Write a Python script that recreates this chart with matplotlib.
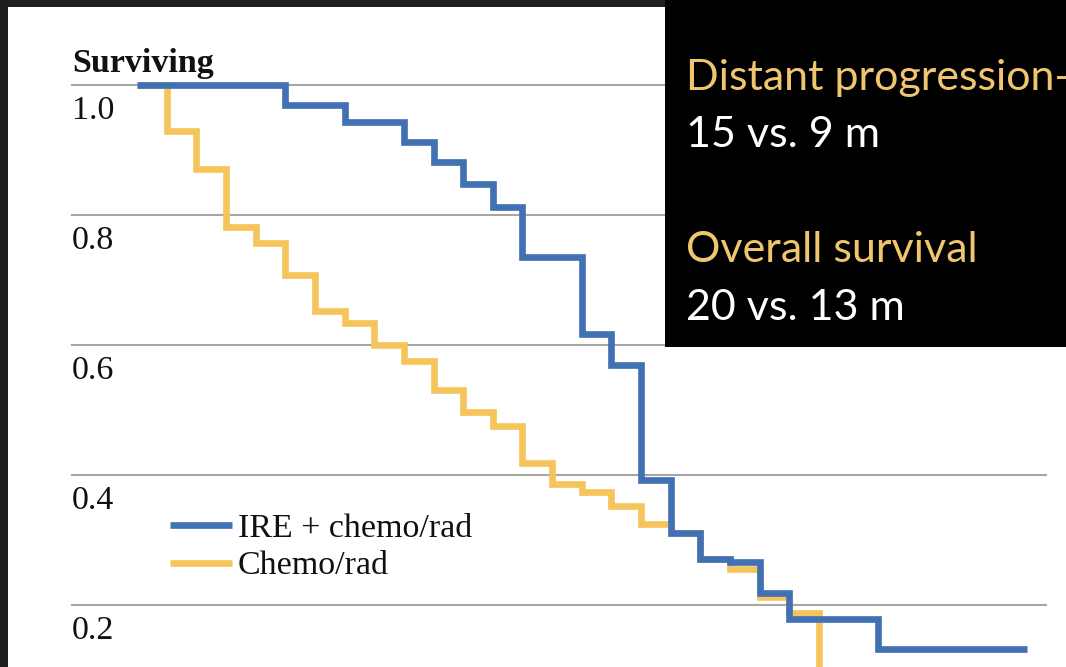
import matplotlib
matplotlib.use('agg')
import matplotlib.pyplot as plt
from matplotlib.patches import Rectangle

########################################################################
# Data -- Kaplan-Meier steps (months, fraction) ----
########################################################################
ire_months = [0, 5, 7, 9, 10, 11, 12, 13, 15, 16, 17, 18, 19, 20, 21, 22, 25, 30]
ire_surv   = [1.0, 0.969, 0.943, 0.912, 0.882, 0.848, 0.812, 0.735, 0.617,
              0.569, 0.392, 0.311, 0.271, 0.266, 0.218, 0.178, 0.132, 0.132]

chemo_months = list(range(0, 24))
chemo_surv   = [1.0, 0.929, 0.871, 0.782, 0.757, 0.708, 0.652, 0.634, 0.600,
                0.575, 0.531, 0.497, 0.475, 0.418, 0.386, 0.374, 0.352, 0.325,
                0.311, 0.271, 0.256, 0.213, 0.187, 0.0]

yticks = [1.0, 0.8, 0.6, 0.4, 0.2]
labels = ['IRE + chemo/rad', 'Chemo/rad']
box_lines = [('Distant progression-free survival', '#EFC56F'),
             ('15 vs. 9 m', '#FFFFFF'),
             ('', '#FFFFFF'),
             ('Overall survival', '#EFC56F'),
             ('20 vs. 13 m', '#FFFFFF')]

W, H, DPI = 1066, 667, 100
BLUE, GOLD = '#4170B3', '#F5C55C'
PXM = 29.65        # pixels per month
X0 = 137           # pixel of month 0
Y1 = 85            # pixel of surviving = 1.0
PXV = 650          # pixels per unit surviving

fig = plt.figure(figsize=(W / DPI, H / DPI), dpi=DPI, facecolor='#1f1f1f')
ax = fig.add_axes([8 / W, 0, (W - 8) / W, (H - 7) / H])
ax.set_facecolor('white')
ax.set_xlim((8 - X0) / PXM, (W - X0) / PXM)
ax.set_ylim(1 - (H - Y1) / PXV, 1 + (Y1 - 7) / PXV)
ax.set_xticks([]); ax.set_yticks([])
for sp in ax.spines.values():
    sp.set_visible(False)

serif = 'Liberation Serif'
fs = 24.5
# gridlines + tick labels
for v in yticks:
    ax.axhline(v, xmin=(72 - 8) / (W - 8), xmax=(1046 - 8) / (W - 8),
               color='#A6A6A6', lw=1.5, zorder=1)
    ax.text((72 - X0) / PXM, v - 34 / PXV, '%.1f' % v, family=serif,
            fontsize=fs, color='#111111', va='baseline', ha='left')

ax.text((72 - X0) / PXM, 1 + 13 / PXV, 'Surviving', family=serif,
        fontsize=fs, fontweight='bold', color='#111111', va='baseline', ha='left')

ax.plot(chemo_months, chemo_surv, drawstyle='steps-post', color=GOLD, lw=4.8,
        solid_joinstyle='miter', solid_capstyle='butt', zorder=3, label=labels[1])
ax.plot(ire_months, ire_surv, drawstyle='steps-post', color=BLUE, lw=4.8,
        solid_joinstyle='miter', solid_capstyle='butt', zorder=4, label=labels[0])

h, l = ax.get_legend_handles_labels()
leg = ax.legend(h[::-1], l[::-1], loc='upper left',
                bbox_to_anchor=(170 / W, 1 - 513 / H), bbox_transform=fig.transFigure,
                frameon=False, prop={'family': serif, 'size': fs},
                handlelength=1.82, handletextpad=0.18, labelspacing=0.2,
                borderpad=0, borderaxespad=0)
for t in leg.get_texts():
    t.set_color('#111111')

# black text box on the right
fig.add_artist(Rectangle(((665) / W, (H - 347) / H), (W - 665) / W, 347 / H,
                         transform=fig.transFigure, facecolor='black',
                         edgecolor='none', zorder=10))
baselines = [90, 147, 0, 262, 320]
for (s, c), b in zip(box_lines, baselines):
    if s:
        fig.text(686 / W, 1 - b / H, s, family='Lato', fontsize=31, color=c,
                 va='baseline', ha='left', zorder=11)

fig.savefig('out.png', dpi=DPI, facecolor=fig.get_facecolor())
